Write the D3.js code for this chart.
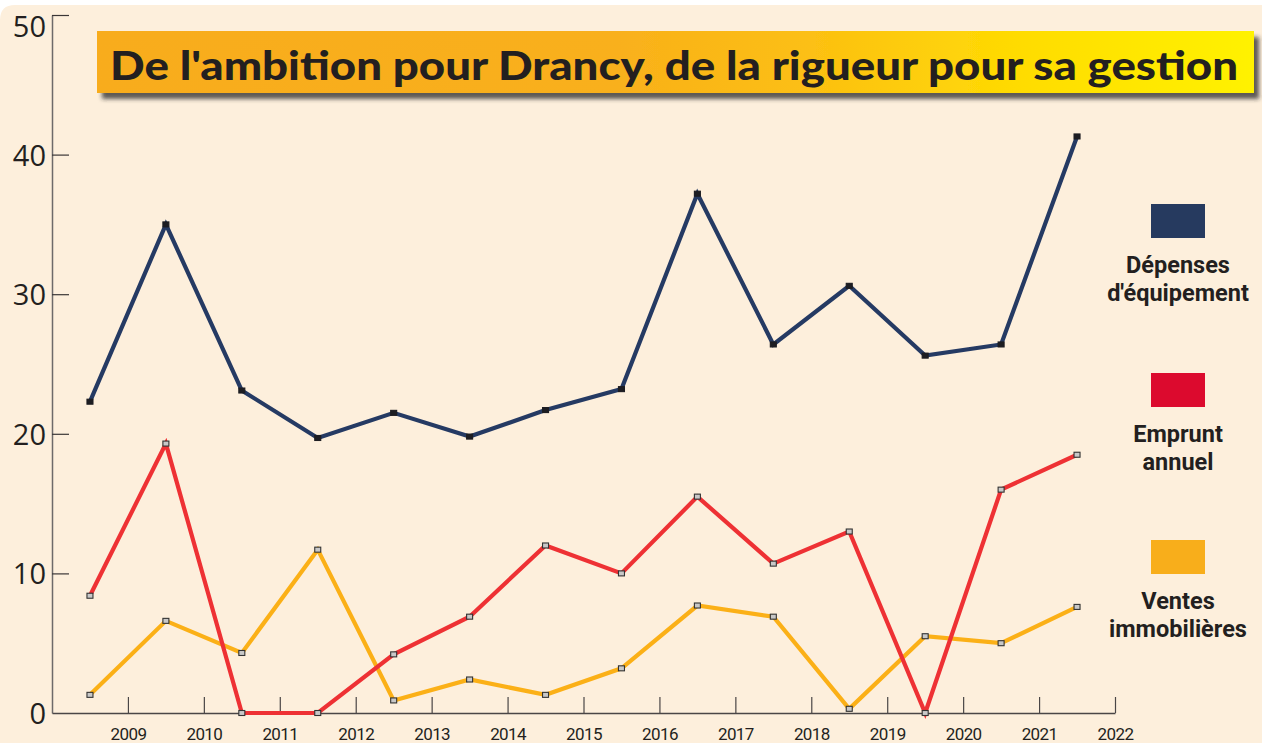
<!DOCTYPE html>
<html>
<head>
<meta charset="utf-8">
<script src="https://cdn.jsdelivr.net/npm/d3@7"></script>
<style>
  html, body { margin: 0; padding: 0; background: #ffffff; }
  svg { display: block; }
</style>
</head>
<body>
<svg id="chart" width="1262" height="743"></svg>
<script>
// ---- data ----
const years = [2009, 2010, 2011, 2012, 2013, 2014, 2015, 2016, 2017, 2018, 2019, 2020, 2021, 2022];
const depenses = [22.3, 35.0, 23.1, 19.7, 21.5, 19.8, 21.7, 23.2, 37.2, 26.4, 30.6, 25.6, 26.4, 41.3];
const emprunt  = [8.4, 19.3, 0, 0, 4.2, 6.9, 12.0, 10.0, 15.5, 10.7, 13.0, 0, 16.0, 18.5];
const ventes   = [1.3, 6.6, 4.3, 11.7, 0.9, 2.4, 1.3, 3.2, 7.7, 6.9, 0.3, 5.5, 5.0, 7.6];
const yTicks = [0, 10, 20, 30, 40, 50];
const title = "De l'ambition pour Drancy, de la rigueur pour sa gestion";
const legendLabels = [["Dépenses", "d'équipement"], ["Emprunt", "annuel"], ["Ventes", "immobilières"]];

const svg = d3.select("#chart");
const defs = svg.append("defs");

// background panel
svg.append("path")
  .attr("d", "M0,20 Q0,5 15,5 L1262,5 L1262,743 L0,743 Z")
  .attr("fill", "#fdefdc");

// scales
const x = d3.scaleLinear().domain([2008, 2022]).range([52, 1115]);
const y = d3.scaleLinear().domain([0, 50]).range([713, 15]);

// y axis
const yAxis = svg.append("g").attr("transform", "translate(52,0)")
  .call(d3.axisLeft(y).tickValues(yTicks).tickSizeInner(-17).tickSizeOuter(0).tickPadding(7));
yAxis.select(".domain").attr("stroke", "#6d6a6a").attr("stroke-width", 1.5);
yAxis.selectAll(".tick line").attr("stroke", "#3a3636").attr("stroke-width", 1.2);
yAxis.selectAll(".tick text")
  .attr("font-family", "'Open Sans', sans-serif")
  .attr("font-weight", 400)
  .attr("font-size", 29)
  .attr("fill", "#231f20")
  .attr("x", -6)
  .attr("dy", d => d === 50 ? "0.75em" : "0.36em");
yAxis.selectAll(".tick").filter(d => d === 0).select("line").remove();

// x axis
const xAxis = svg.append("g").attr("transform", "translate(0,713)")
  .call(d3.axisBottom(x).tickValues(years).tickFormat(d3.format("d")).tickSizeInner(-16).tickSizeOuter(0));
xAxis.select(".domain").attr("stroke", "#4a4646").attr("stroke-width", 1.4);
xAxis.selectAll(".tick line").attr("stroke", "#4a4646").attr("stroke-width", 1.2);
xAxis.selectAll(".tick text")
  .attr("font-family", "Roboto, sans-serif")
  .attr("font-size", 17)
  .attr("letter-spacing", -0.6)
  .attr("fill", "#231f20")
  .attr("y", 27)
  .attr("dy", 0);

// title box with gradient and shadow
const grad = defs.append("linearGradient").attr("id", "tg").attr("x1", "0").attr("x2", "1").attr("y1", "0").attr("y2", "0");
[[0, "#f8ac1d"], [0.45, "#f9b01b"], [0.62, "#fcc012"], [0.8, "#ffdc03"], [1, "#fff200"]]
  .forEach(([o, c]) => grad.append("stop").attr("offset", o).attr("stop-color", c));
const filt = defs.append("filter").attr("id", "sh").attr("x", "-5%").attr("y", "-30%").attr("width", "115%").attr("height", "170%");
filt.append("feDropShadow").attr("dx", 5).attr("dy", 6).attr("stdDeviation", 2.2)
  .attr("flood-color", "#2a2a2a").attr("flood-opacity", 0.75);
svg.append("rect").attr("x", 97).attr("y", 31).attr("width", 1157).attr("height", 62)
  .attr("fill", "url(#tg)").attr("filter", "url(#sh)");
svg.append("text").attr("x", 110).attr("y", 80)
  .attr("font-family", "Lato, 'Open Sans', sans-serif")
  .attr("font-weight", 900)
  .attr("font-size", 40)
  .attr("fill", "#231f20")
  .attr("textLength", 1128)
  .attr("lengthAdjust", "spacingAndGlyphs")
  .text(title);

// lines
const series = [
  { values: ventes, color: "#fbb017", marker: "light" },
  { values: emprunt, color: "#ee3134", marker: "light" },
  { values: depenses, color: "#253a63", marker: "dark" }
];
const line = d3.line().x((d, i) => x(years[i] - 0.5)).y(d => y(d));
series.forEach(s => {
  svg.append("path").datum(s.values).attr("d", line)
    .attr("fill", "none").attr("stroke", s.color).attr("stroke-width", 4.2)
    .attr("stroke-linejoin", "miter");
});
series.forEach(s => {
  svg.append("g").selectAll("rect").data(s.values).join("rect")
    .attr("x", (d, i) => x(years[i] - 0.5) - 3)
    .attr("y", d => y(d) - 2.5)
    .attr("width", 6).attr("height", 5)
    .attr("fill", s.marker === "dark" ? "#1d1d22" : "#c8c8c8")
    .attr("stroke", s.marker === "dark" ? "#1d1d22" : "#333333")
    .attr("stroke-width", 1.1);
});

// legend
const legendColors = ["#263a5f", "#dc0a2e", "#f8ae1b"];
const swatchTops = [204, 373, 540];
legendLabels.forEach((lab, i) => {
  const g = svg.append("g");
  g.append("rect").attr("x", 1151).attr("y", swatchTops[i]).attr("width", 54).attr("height", 34)
    .attr("fill", legendColors[i]);
  lab.forEach((t, j) => {
    g.append("text").attr("x", 1178).attr("y", swatchTops[i] + 69 + j * 28)
      .attr("text-anchor", "middle")
      .attr("font-family", "Roboto, sans-serif")
      .attr("font-weight", 700)
      .attr("font-size", 23.5)
      .attr("fill", "#231f20")
      .text(t);
  });
});
</script>
</body>
</html>
